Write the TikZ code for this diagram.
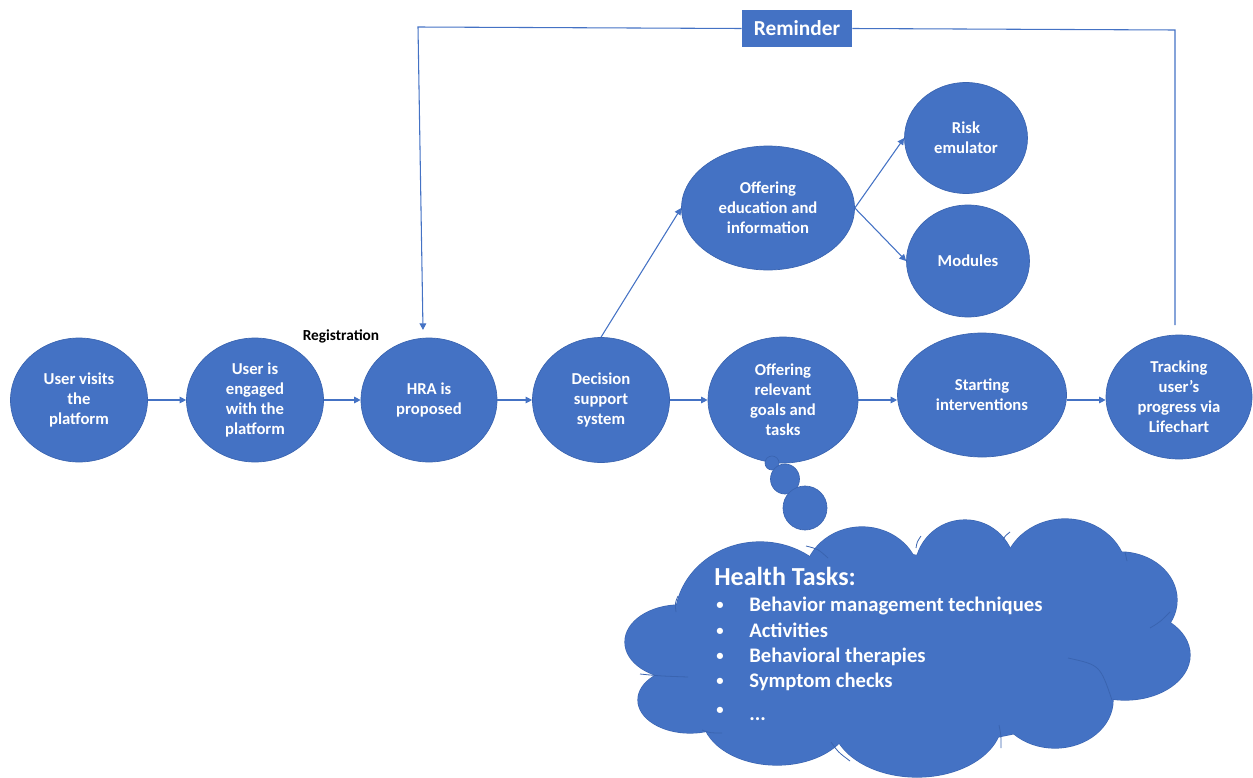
\documentclass[tikz,border=0pt]{standalone}
\usepackage{fontspec}
\setmainfont{Carlito}
\usetikzlibrary{shapes.geometric,arrows.meta}
\definecolor{nblue}{HTML}{4472C4}
\definecolor{nedge}{HTML}{3A64B0}
\tikzset{
  sz/.style 2 args={minimum width=#1*0.75pt, minimum height=#2*0.75pt},
  circ/.style={ellipse, fill=nblue, draw=nedge, line width=0.5pt, text=white,
    font=\bfseries\fontsize{12.5}{15}\selectfont, align=center, inner sep=0pt},
  conn/.style={draw=nblue, line width=0.8pt},
  arr/.style={conn, -{Triangle[length=5pt,width=5pt]}},
  cloudedge/.style={draw=nedge, line width=0.9pt},
  innerarc/.style={draw=nedge, line width=0.6pt},
  cloudfill/.style={fill=nblue},
  ctext/.style={text=white, font=\bfseries\fontsize{15.5}{18}\selectfont, inner sep=0pt},
  bul/.style={text=white, font=\bfseries\fontsize{11}{13}\selectfont, inner sep=0pt, anchor=base},
}
\begin{document}
\begin{tikzpicture}[x=0.75pt,y=-0.75pt]
\useasboundingbox (0,0) rectangle (1253,778);

% nodes
\node[circ, sz={137}{124}] (n1) at (79,400) {User visits\\the\\platform};
\node[circ, sz={137}{124}] (n2) at (255,400) {User is\\engaged\\with the\\platform};
\node[circ, sz={136}{124}] (n3) at (429,400) {HRA is\\proposed};
\node[circ, sz={137}{125}] (n4) at (601,400) {Decision\\support\\system};
\node[circ, sz={150}{126}] (n5) at (783,400) {Offering\\relevant\\goals and\\tasks};
\node[circ, sz={169}{124}] (n6) at (982,395) {Starting\\interventions};
\node[circ, sz={146}{124}] (n7) at (1179,397) {Tracking\\user’s\\progress via\\Lifechart};
\node[circ, sz={173}{124}] (n8) at (768,208) {Offering\\education and\\information};
\node[circ, sz={123}{111}] (n9) at (966,138) {Risk\\emulator};
\node[circ, sz={123}{112}] (n10) at (968,261) {Modules};

% reminder
\node[fill=nblue, text=white, font=\bfseries\fontsize{16}{19}\selectfont,
      minimum width=110*0.75pt, minimum height=37*0.75pt, inner sep=0pt] (rem) at (797,28.5) {Reminder};
\node[font=\bfseries\fontsize{11.5}{14}\selectfont, inner sep=0pt] (reg) at (341,336) {Registration};

\coordinate (rl) at (418,27);
\coordinate (rt) at (423,330);
\coordinate (rr) at (1175,30);
\coordinate (re) at (1175,325);

% connectors
\draw[arr] (rem.west) -- (rl) -- (rt);
\draw[conn] (rem.east) -- (rr) -- (re);
\draw[arr] (n1.east) -- (n2.west);
\draw[arr] (n2.east) -- (n3.west);
\draw[arr] (n3.east) -- (n4.west);
\draw[arr] (n4.east) -- (n5.west);
\draw[arr] (n5.east) -- (n5.east -| n6.west);
\draw[arr] (n6.east |- n5.east) -- (n7.west |- n5.east);
\draw[arr] (n4.north) -- (n8.west);
\draw[arr] (n8.east) -- (n9.west);
\draw[arr] (n8.east) -- (n10.west);

% thought bubbles
\draw[cloudedge, fill=nblue, line width=0.5pt] (772,463) ellipse [x radius=7, y radius=7];
\draw[cloudedge, fill=nblue, line width=0.5pt] (785,479) ellipse [x radius=14.5, y radius=15];
\draw[cloudedge, fill=nblue, line width=0.5pt] (805,508) ellipse [x radius=22, y radius=22];

% cloud
\def\lobes{905/650/230/95, 760/620/85/78, 862/580/58/53, 965/570/50/50,
  1065/575/62/56, 1120/600/57/48, 1125/655/65/45, 1055/700/58/48,
  917/720/85/57, 777/715/75/50, 680/642/55/37, 690/700/52/33}
\foreach \cx/\cy/\rx/\ry in \lobes
  \draw[cloudedge] (\cx,\cy) ellipse [x radius=\rx, y radius=\ry];
\foreach \cx/\cy/\rx/\ry in \lobes
  \fill[cloudfill] (\cx,\cy) ellipse [x radius=\rx, y radius=\ry];
% inner lobe lines of the cloud
\draw[innerarc] (806,546) .. controls (818,549) .. (828,558);
\draw[innerarc] (676,612) .. controls (675,603) .. (678,596);
\draw[innerarc] (1068,658) .. controls (1100,665) .. (1112,700);
\draw[innerarc] (1150,628) .. controls (1160,622) .. (1170,612);
\draw[innerarc] (640,674) .. controls (660,676) .. (688,677);
\draw[innerarc] (702,730) .. controls (710,733) .. (722,733);
\draw[innerarc] (999,725) .. controls (1001,735) .. (1001,748);
\draw[innerarc] (831,742) .. controls (838,752) .. (850,761);
\draw[innerarc] (916,548) .. controls (917,542) .. (921,536);
\draw[innerarc] (1003,540) .. controls (1005,536) .. (1010,532);
\draw[innerarc] (1125,552) .. controls (1126,556) .. (1127,561);

% cloud text
\node[text=white, font=\bfseries\fontsize{19.5}{23}\selectfont, inner sep=0pt, anchor=base west] (ht) at (714,585) {Health Tasks:};
\node[bul] (d1) at (720,609) {•};
\node[bul] (d2) at (720,635) {•};
\node[bul] (d3) at (720,660) {•};
\node[bul] (d4) at (720,685) {•};
\node[bul] (d5) at (720,714) {•};
\node[ctext, anchor=base west] (t1) at (749,611) {Behavior management techniques};
\node[ctext, anchor=base west] (t2) at (749,637) {Activities};
\node[ctext, anchor=base west] (t3) at (749,662) {Behavioral therapies};
\node[ctext, anchor=base west] (t4) at (749,687) {Symptom checks};
\node[ctext, anchor=base west] (t5) at (749,720) {...};
\end{tikzpicture}
\end{document}
